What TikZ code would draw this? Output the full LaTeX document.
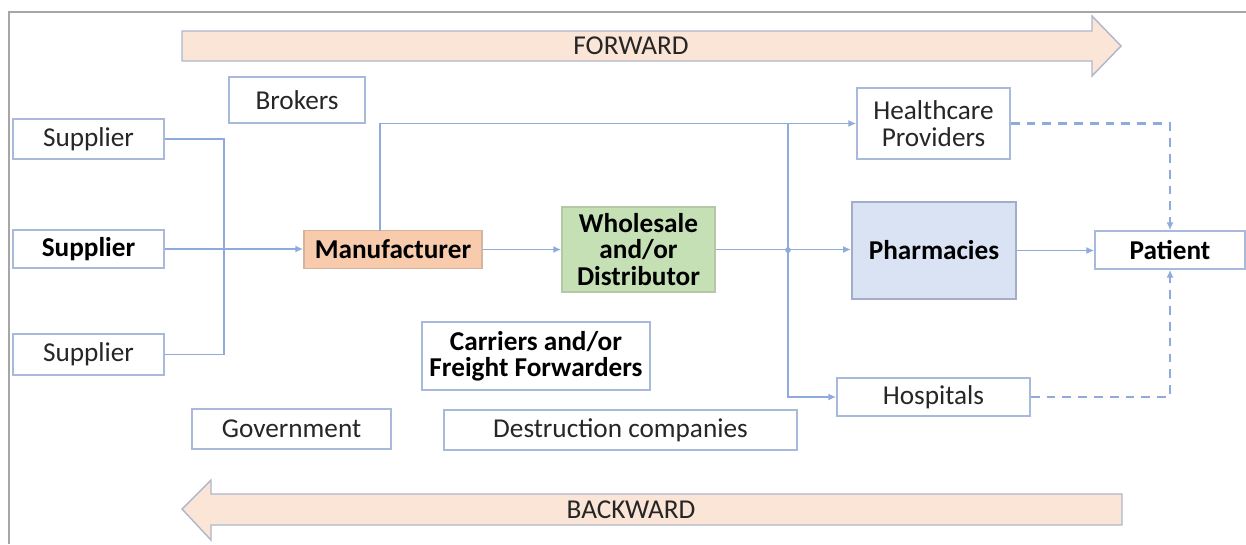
\documentclass[tikz,border=0pt]{standalone}
\usepackage{fontspec}
\setmainfont{Carlito}
\usetikzlibrary{arrows.meta}
\definecolor{peach}{HTML}{FBE5D6}
\definecolor{manuf}{HTML}{F8CBAD}
\definecolor{greenf}{HTML}{C5E0B4}
\definecolor{bluef}{HTML}{DAE3F3}
\definecolor{boxline}{HTML}{A9B9DC}
\definecolor{conn}{HTML}{8FAADC}
\definecolor{arrline}{HTML}{AEB6CC}
\definecolor{framec}{HTML}{A6A6A6}
\definecolor{txt}{HTML}{262626}
\tikzset{
  box/.style={draw=boxline, line width=0.9pt, fill=white, inner sep=0pt, align=center,
    text=txt, font=\fontsize{15.5}{15}\selectfont},
  boldbox/.style={box, text=black, font=\fontsize{15.5}{15}\selectfont\bfseries},
  conline/.style={draw=conn, line width=0.9pt},
  conarrow/.style={conline, -{Latex[length=4.5pt,width=4pt]}},
  dashline/.style={draw=conn, line width=1.3pt, dash pattern=on 5pt off 4pt, -{Latex[length=4.5pt,width=4pt]}},
  bigarrow/.style={fill=peach, draw=arrline, line width=0.8pt},
  arrlabel/.style={text=txt, font=\fontsize{15.5}{15}\selectfont}
}
\begin{document}
\begin{tikzpicture}[x=0.02cm,y=-0.02cm]
\useasboundingbox (0,0) rectangle (1246,544);
\fill[white] (0,0) rectangle (1246,544);
% frame
\draw[framec, line width=1.2pt] (9,544) -- (9,12) -- (1246,12);
% big arrows
\draw[bigarrow] (182,31) -- (1092,31) -- (1092,16) -- (1121,46) -- (1092,76) -- (1092,61) -- (182,61) -- cycle;
\node[arrlabel] (fwd) at (631,46) {FORWARD};
\draw[bigarrow] (1122,494) -- (211,494) -- (211,480) -- (182,509) -- (211,540) -- (211,525) -- (1122,525) -- cycle;
\node[arrlabel] (bwd) at (631,510) {BACKWARD};
% boxes
\node[box, minimum width=3.02cm, minimum height=0.8cm] (sup1) at (88.5,139) {Supplier};
\node[boldbox, minimum width=3.02cm, minimum height=0.76cm] (sup2) at (88.5,249) {Supplier};
\node[box, minimum width=3.02cm, minimum height=0.82cm] (sup3) at (88.5,354.5) {Supplier};
\node[box, minimum width=2.72cm, minimum height=0.92cm] (brok) at (297,100) {Brokers};
\node[boldbox, fill=manuf, draw=manuf!70!gray, minimum width=3.56cm, minimum height=0.76cm] (manu) at (393,249.5) {Manufacturer};
\node[boldbox, fill=greenf, draw=greenf!75!gray, minimum width=3.06cm, minimum height=1.7cm] (whole) at (638.5,249.5) {Wholesale\\and/or\\Distributor};
\node[box, minimum width=3.06cm, minimum height=1.42cm] (health) at (933.5,123.5) {Healthcare\\Providers};
\node[boldbox, fill=bluef, draw=boxline!80!gray, line width=1.2pt, minimum width=3.28cm, minimum height=1.94cm] (pharm) at (934,250.5) {Pharmacies};
\node[boldbox, minimum width=3.0cm, minimum height=0.76cm] (pat) at (1170,250) {Patient};
\node[box, minimum width=3.86cm, minimum height=0.76cm] (hosp) at (933.5,397) {Hospitals};
\node[boldbox, minimum width=4.56cm, minimum height=1.36cm] (carr) at (536,356) {Carriers and/or\\Freight Forwarders};
\node[box, minimum width=3.98cm, minimum height=0.8cm] (gov) at (291.5,429) {Government};
\node[box, minimum width=7.06cm, minimum height=0.8cm] (destr) at (620.5,430) {Destruction companies};
% connector points
\coordinate (b1) at (224,139);
\coordinate (b2) at (224,354.5);
\coordinate (mtop) at (380,231);
\coordinate (vtop) at (788,124);
\coordinate (junc) at (788,250);
% connectors
\draw[conline] (sup1.east) -- (b1) -- (b2) -- (sup3.east);
\draw[conarrow] (sup2.east) -- (sup2.east -| manu.west);
\draw[conarrow] (manu.east) -- (whole.west);
\draw[conarrow] (mtop) |- (health.west);
\draw[conarrow] (vtop) |- (hosp.west);
\draw[conarrow] (whole.east) -- (whole.east -| pharm.west);
\fill[conn] (junc) circle (1.6pt);
\draw[conarrow] (pharm.east) -- (pharm.east -| pat.west);
\draw[dashline] (health.east) -| (pat.north);
\draw[dashline] (hosp.east) -| (pat.south);
\end{tikzpicture}
\end{document}
